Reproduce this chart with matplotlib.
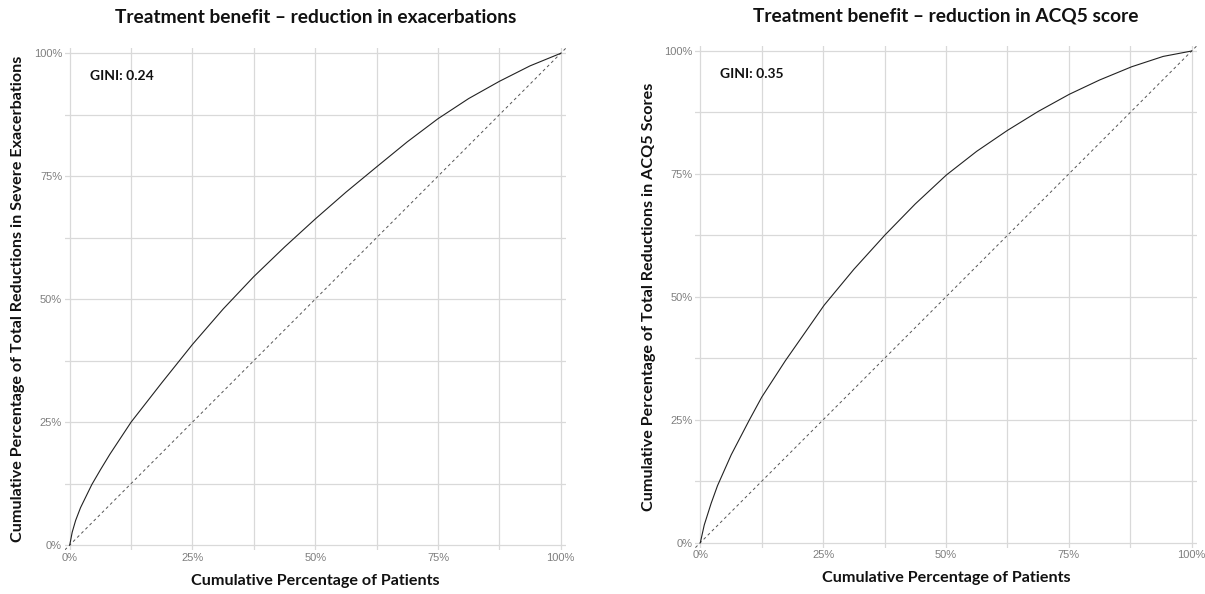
import matplotlib
matplotlib.use("Agg")
import matplotlib.pyplot as plt
from matplotlib.ticker import FixedLocator

# ---- data (percent) ----
exac_x = [0, 0.5, 1.2, 2.2, 4.5, 6.25, 8.2, 12.5, 18.75, 25, 31.25, 37.5, 43.75, 50,
          56.25, 62.5, 68.75, 75, 81.25, 87.5, 93.75, 100]
exac_y = [0, 2.6, 5.0, 7.6, 12.3, 15.3, 18.5, 25.0, 33.0, 40.8, 48.0, 54.6, 60.6, 66.3,
          71.75, 76.9, 82.0, 86.7, 90.8, 94.3, 97.45, 100]

acq_x = [0, 0.8, 2.2, 3.5, 6.3, 10, 12.5, 17.3, 25.2, 31.25, 37.6, 43.75, 50.1,
         56.25, 62.5, 68.75, 75.1, 81.25, 87.8, 94.2, 100]
acq_y = [0, 3.6, 8.0, 11.6, 17.9, 25.0, 29.6, 37.0, 48.3, 55.6, 62.6, 68.9, 74.8,
         79.6, 83.85, 87.7, 91.2, 94.1, 96.8, 98.9, 100]

ticks = [0, 25, 50, 75, 100]
tick_labels = ["0%", "25%", "50%", "75%", "100%"]
minor_ticks = [12.5, 37.5, 62.5, 87.5]

panels = [
    dict(x=exac_x, y=exac_y,
         title="Treatment benefit \u2013 reduction in exacerbations",
         ylabel="Cumulative Percentage of Total Reductions in Severe Exacerbations",
         gini="GINI: 0.24",
         rect=[0.0538, 0.0742, 0.4156, 0.8443]),
    dict(x=acq_x, y=acq_y,
         title="Treatment benefit \u2013 reduction in ACQ5 score",
         ylabel="Cumulative Percentage of Total Reductions in ACQ5 Scores",
         gini="GINI: 0.35",
         rect=[0.5771, 0.0781, 0.4159, 0.8443]),
]
xlabel = "Cumulative Percentage of Patients"

W, H = 1205, 594
fig = plt.figure(figsize=(W / 100, H / 100), dpi=100)
bold_font = ["Lato", "DejaVu Sans"]
tick_font = ["Liberation Sans", "DejaVu Sans"]
grid_col = "#d9d9d9"

for p in panels:
    ax = fig.add_axes(p["rect"])
    ax.set_xlim(-1, 101)
    ax.set_ylim(-1, 101)
    for s in ax.spines.values():
        s.set_visible(False)
    ax.xaxis.set_major_locator(FixedLocator(ticks))
    ax.yaxis.set_major_locator(FixedLocator(ticks))
    ax.xaxis.set_minor_locator(FixedLocator(minor_ticks))
    ax.yaxis.set_minor_locator(FixedLocator(minor_ticks))
    ax.set_xticklabels(tick_labels, fontfamily=tick_font, fontsize=8, color="#7f7f7f")
    ax.set_yticklabels(tick_labels, fontfamily=tick_font, fontsize=8, color="#7f7f7f")
    ax.tick_params(which="both", length=0, pad=2)
    ax.grid(which="major", color=grid_col, linewidth=0.9)
    ax.grid(which="minor", color=grid_col, linewidth=0.9)
    ax.set_axisbelow(True)

    ax.axline((0, 0), slope=1, color="#555555", linestyle=(0, (3, 3)), linewidth=0.7)
    ax.plot(p["x"], p["y"], color="#222222", linewidth=0.8)

    ax.text(4.1, 95.4, p["gini"], fontfamily=bold_font, fontweight="bold",
            fontsize=10, color="#111111", va="center", ha="left")
    ax.set_title(p["title"], fontfamily=bold_font, fontweight="bold",
                 fontsize=13.8, color="#111111", pad=18)
    ax.set_xlabel(xlabel, fontfamily=bold_font, fontweight="bold",
                  fontsize=11.6, color="#111111", labelpad=8)
    ax.set_ylabel(p["ylabel"], fontfamily=bold_font, fontweight="bold",
                  fontsize=11.6, color="#111111", labelpad=6)

fig.savefig("out.png", dpi=100, facecolor="white")
